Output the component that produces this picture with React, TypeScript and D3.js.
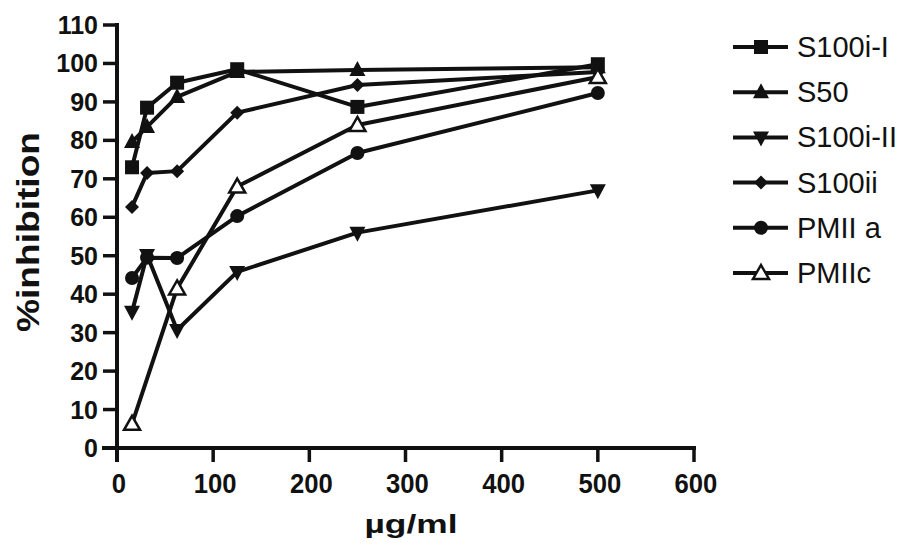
import React from "react";
import * as d3 from "d3";

const concentrations = [15.625, 31.25, 62.5, 125, 250, 500];
const s100iI = [73, 88.5, 95, 98.5, 88.7, 99.8];
const s50 = [79.6, 83.5, 91.3, 97.8, 98.3, 99];
const s100iII = [35.4, 50.2, 30.7, 45.8, 56, 67];
const s100ii = [62.7, 71.5, 72, 87.2, 94.4, 97.8];
const pmIIa = [44.2, 49.5, 49.4, 60.3, 76.7, 92.3];
const pmIIc: (number | null)[] = [6.3, null, 41.5, 68, 84, 96.5];

const seriesNames = ["S100i-I", "S50", "S100i-II", "S100ii", "PMII a", "PMIIc"];
const seriesValues: (number | null)[][] = [s100iI, s50, s100iII, s100ii, pmIIa, pmIIc];
const seriesMarkers = ["square", "triUp", "triDown", "diamond", "circle", "openTri"];

const xTicks = [0, 100, 200, 300, 400, 500, 600];
const yTicks = [0, 10, 20, 30, 40, 50, 60, 70, 80, 90, 100, 110];

const FONT = "'Liberation Sans', Arial, Helvetica, sans-serif";

function Marker({ type, x, y }: { type: string; x: number; y: number }) {
  const c = "#111";
  if (type === "square") return <rect x={x - 7} y={y - 7} width={14} height={14} fill={c} />;
  if (type === "circle") return <circle cx={x} cy={y} r={7} fill={c} />;
  if (type === "diamond")
    return <path d={`M${x},${y - 7}L${x + 7},${y}L${x},${y + 7}L${x - 7},${y}Z`} fill={c} />;
  if (type === "triUp")
    return <path d={`M${x},${y - 9}L${x + 8},${y + 6}L${x - 8},${y + 6}Z`} fill={c} />;
  if (type === "triDown")
    return <path d={`M${x},${y + 9}L${x + 8},${y - 6}L${x - 8},${y - 6}Z`} fill={c} />;
  return (
    <path
      d={`M${x},${y - 8}L${x + 8},${y + 6}L${x - 8},${y + 6}Z`}
      fill="#fff"
      stroke={c}
      strokeWidth={2.5}
      strokeLinejoin="miter"
    />
  );
}

export default function App() {
  const W = 909;
  const H = 546;
  const x = d3.scaleLinear().domain([0, 600]).range([117, 694]);
  const y = d3.scaleLinear().domain([0, 110]).range([448, 25]);

  const line = d3
    .line<[number, number]>()
    .x((d) => x(d[0]))
    .y((d) => y(d[1]));

  const pts = (vals: (number | null)[]) =>
    concentrations
      .map((c, i) => [c, vals[i]] as [number, number | null])
      .filter((p) => p[1] !== null) as [number, number][];

  const legendY = d3.scalePoint<string>().domain(seriesNames).range([47, 273]);

  return (
    <svg
      width={W}
      height={H}
      style={{ position: "absolute", left: 0, top: 0, background: "#fff" }}
      fontFamily={FONT}
    >
      {/* axes */}
      <line x1={117} x2={117} y1={y(110) - 2} y2={462} stroke="#111" strokeWidth={4} />
      <line x1={102} x2={x(600) + 2} y1={448} y2={448} stroke="#111" strokeWidth={4} />
      {yTicks.map((t) => (
        <g key={"y" + t}>
          <line x1={103} x2={117} y1={y(t)} y2={y(t)} stroke="#111" strokeWidth={3.5} />
          <text
            x={98}
            y={y(t)}
            textAnchor="end"
            dominantBaseline="central"
            fontSize={25}
            fontWeight="bold"
            fill="#111"
          >
            {t}
          </text>
        </g>
      ))}
      {xTicks.map((t) => (
        <g key={"x" + t}>
          <line x1={x(t)} x2={x(t)} y1={448} y2={462} stroke="#111" strokeWidth={3.5} />
          <text
            x={x(t) + 2}
            y={493}
            textAnchor="middle"
            fontSize={27}
            fontWeight="bold"
            fill="#111"
            transform={`translate(${x(t) + 2},493) scale(0.95,1.05) translate(${-(x(t) + 2)},-493)`}
          >
            {t}
          </text>
        </g>
      ))}
      <text
        x={0}
        y={0}
        transform="translate(28,232) rotate(-90)"
        textAnchor="middle"
        dominantBaseline="central"
        fontSize={31}
        fontWeight="bold"
        fill="#111"
        textLength={200}
        lengthAdjust="spacingAndGlyphs"
      >
        %inhibition
      </text>
      <text
        x={411}
        y={533}
        textAnchor="middle"
        fontSize={26}
        fontWeight="bold"
        fill="#111"
        textLength={93}
        lengthAdjust="spacingAndGlyphs"
      >
        µg/ml
      </text>

      {/* lines */}
      {seriesValues.map((vals, i) => (
        <path
          key={"l" + i}
          d={line(pts(vals)) || ""}
          fill="none"
          stroke="#111"
          strokeWidth={4}
          strokeLinejoin="round"
        />
      ))}
      {/* markers */}
      {seriesValues.map((vals, i) =>
        pts(vals).map((p, j) => (
          <Marker key={"m" + i + "-" + j} type={seriesMarkers[i]} x={x(p[0])} y={y(p[1])} />
        ))
      )}

      {/* legend */}
      {seriesNames.map((name, i) => {
        const ly = legendY(name) as number;
        return (
          <g key={"lg" + i}>
            <line x1={733} x2={788} y1={ly} y2={ly} stroke="#111" strokeWidth={4} />
            <Marker type={seriesMarkers[i]} x={761} y={ly} />
            <text x={797} y={ly} dominantBaseline="central" fontSize={29} fill="#111">
              {name}
            </text>
          </g>
        );
      })}
    </svg>
  );
}
